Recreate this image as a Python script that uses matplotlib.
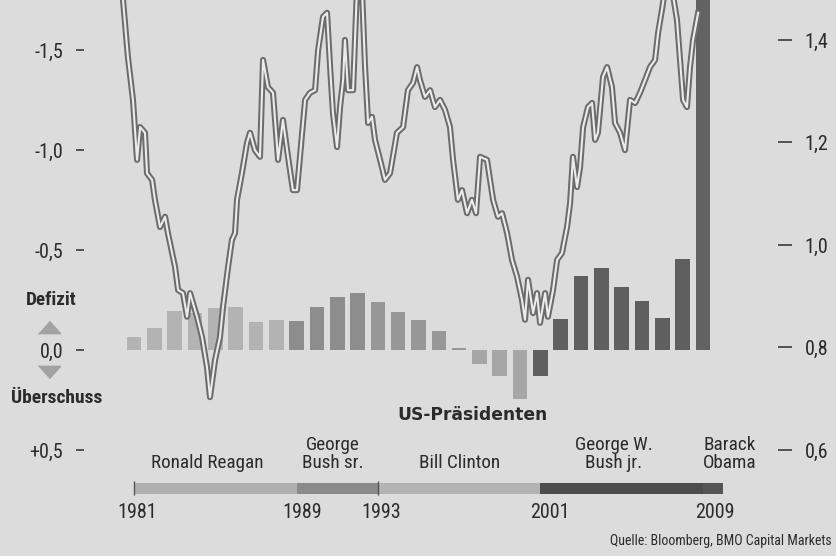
import matplotlib
matplotlib.use("Agg")
import matplotlib.pyplot as plt
import matplotlib.transforms as mtransforms

# US-Haushaltssaldo in Billionen Dollar (negativ = Defizit)
jahre = list(range(1981, 2010))
saldo = [-0.065, -0.11, -0.195, -0.185, -0.21, -0.215, -0.14, -0.15,
         -0.145, -0.215, -0.265, -0.285, -0.24, -0.19, -0.15, -0.095,
         -0.012, 0.07, 0.13, 0.245, 0.13, -0.155, -0.37, -0.41,
         -0.315, -0.245, -0.16, -0.455, -1.85]

# Euro/Dollar-Kurs (rechte Achse)
kurs_zeit = [1980.36, 1980.46, 1980.70, 1980.95, 1981.15, 1981.30, 1981.54, 1981.64,
             1981.89, 1982.03, 1982.28, 1982.53, 1982.67, 1983.02, 1983.17, 1983.41,
             1983.61, 1983.76, 1984.10, 1984.35, 1984.59, 1984.74, 1984.99, 1985.23,
             1985.38, 1985.63, 1985.82, 1985.97, 1986.07, 1986.31, 1986.56, 1986.71,
             1986.95, 1987.20, 1987.35, 1987.59, 1987.84, 1988.09, 1988.33, 1988.58,
             1988.82, 1989.02, 1989.42, 1989.66, 1989.91, 1990.06, 1990.30, 1990.50,
             1990.65, 1990.79, 1990.99, 1991.14, 1991.29, 1991.38, 1991.53, 1991.78,
             1991.97, 1992.22, 1992.37, 1992.52, 1992.71, 1992.86, 1993.11, 1993.35,
             1993.60, 1993.94, 1994.24, 1994.48, 1994.73, 1994.93, 1995.07, 1995.32,
             1995.57, 1995.81, 1996.06, 1996.31, 1996.55, 1996.70, 1996.94, 1997.14,
             1997.39, 1997.63, 1997.83, 1998.03, 1998.37, 1998.67, 1998.91, 1999.11,
             1999.36, 1999.60, 1999.85, 2000.09, 2000.24, 2000.39, 2000.64, 2000.83,
             2000.98, 2001.23, 2001.37, 2001.62, 2001.82, 2002.06, 2002.31, 2002.46,
             2002.60, 2002.80, 2002.95, 2003.10, 2003.34, 2003.54, 2003.69, 2003.83,
             2004.08, 2004.28, 2004.52, 2004.67, 2004.92, 2005.16, 2005.41, 2005.66,
             2005.90, 2006.15, 2006.39, 2006.64, 2006.79, 2006.98, 2007.13, 2007.48,
             2007.72, 2007.87, 2008.02, 2008.21, 2008.36, 2008.51, 2008.76]
kurs = [1.507, 1.478, 1.367, 1.283, 1.166, 1.230, 1.219, 1.140,
        1.127, 1.088, 1.035, 1.055, 1.023, 0.957, 0.912, 0.906,
        0.860, 0.906, 0.860, 0.820, 0.762, 0.703, 0.776, 0.820,
        0.879, 0.957, 1.010, 1.023, 1.088, 1.140, 1.199, 1.219,
        1.185, 1.172, 1.361, 1.308, 1.297, 1.166, 1.244, 1.172,
        1.107, 1.107, 1.283, 1.297, 1.302, 1.380, 1.445, 1.453,
        1.347, 1.258, 1.191, 1.269, 1.322, 1.400, 1.302, 1.302,
        1.498, 1.498, 1.347, 1.238, 1.250, 1.205, 1.166, 1.127,
        1.140, 1.219, 1.230, 1.302, 1.316, 1.347, 1.322, 1.289,
        1.302, 1.269, 1.283, 1.263, 1.230, 1.166, 1.088, 1.107,
        1.062, 1.088, 1.062, 1.172, 1.166, 1.088, 1.055, 1.062,
        1.023, 0.971, 0.938, 0.893, 0.854, 0.932, 0.867, 0.906,
        0.848, 0.906, 0.860, 0.912, 0.971, 0.984, 1.035, 1.082,
        1.172, 1.113, 1.152, 1.230, 1.269, 1.277, 1.205, 1.219,
        1.328, 1.347, 1.308, 1.238, 1.219, 1.185, 1.283, 1.277,
        1.297, 1.322, 1.347, 1.361, 1.414, 1.459, 1.498, 1.498,
        1.439, 1.361, 1.283, 1.269, 1.347, 1.400, 1.453]

praesidenten = ["Ronald Reagan", "George\nBush sr.", "Bill Clinton",
                "George W.\nBush jr.", "Barack\nObama"]
amtsbeginn = [1981, 1989, 1993, 2001, 2009]
amtsende = [1989, 1993, 2001, 2009, 2010]
name_pos = [1984.6, 1990.8, 1997.0, 2004.6, 2010.3]
jahr_labels = ["1981", "1989", "1993", "2001", "2009"]
jahr_pos = [1981.15, 1989.27, 1993.15, 2001.47, 2009.6]

links_ticks = [-1.5, -1.0, -0.5, 0.0, 0.5]
links_labels = ["-1,5", "-1,0", "-0,5", "0,0", "+0,5"]
rechts_ticks = [0.6, 0.8, 1.0, 1.2, 1.4]
rechts_labels = ["0,6", "0,8", "1,0", "1,2", "1,4"]

BG = "#dcdcdc"
TXT = "#2b2b2b"
balken_farbe = ["#b3b3b3", "#8d8d8d", "#979797", "#5f5f5f", "#626262"]
leiste_farbe = ["#b0b0b0", "#8a8a8a", "#b3b3b3", "#4d4d4d", "#555555"]
SCHMAL = ["Roboto Condensed", "Liberation Sans Narrow", "Liberation Sans"]
plt.rcParams["font.stretch"] = "condensed"


def praesident_von(jahr):
    for i, (a, e) in enumerate(zip(amtsbeginn, amtsende)):
        if a <= jahr < e:
            return i
    return len(amtsbeginn) - 1


fig = plt.figure(figsize=(8.36, 5.56), dpi=100, facecolor=BG)
ax = fig.add_axes([84 / 836, 0, (778 - 84) / 836, 1])
ax.set_facecolor("none")
ax.set_xlim(1978.54, 2012.69)
ax.set_ylim(1.03, -1.75)
for s in ax.spines.values():
    s.set_visible(False)

# Balken Haushaltssaldo
farben = []
for j, v in zip(jahre, saldo):
    i = praesident_von(j)
    if i == 2 and v > 0:
        farben.append("#a6a6a6")
    else:
        farben.append(balken_farbe[i])
ax.bar(jahre, saldo, width=0.72, color=farben, zorder=2)

# Leiste der Präsidenten
for a, e, c in zip(amtsbeginn, amtsende, leiste_farbe):
    ax.barh(0.69, e - a, left=a, height=0.055, color=c, zorder=2, clip_on=False)
ax.vlines([1981, 1993], 0.655, 0.725, color="#555555", lw=1, zorder=3)

for name, x in zip(praesidenten, name_pos):
    ax.text(x, 0.61, name, ha="center", va="bottom", fontsize=13.8,
            family=SCHMAL, color=TXT, linespacing=1.0, clip_on=False)
for lab, x in zip(jahr_labels, jahr_pos):
    ax.text(x, 0.815, lab, ha="center", va="center", fontsize=14.5,
            family=SCHMAL, color=TXT)
ax.text(1997.68, 0.325, "US-Präsidenten", ha="center", va="center",
        fontsize=12.3, fontweight="bold", family="DejaVu Sans",
        fontstretch="normal", color=TXT)

ax.set_xticks([])
ax.set_yticks(links_ticks)
ax.set_yticklabels(links_labels, family=SCHMAL)
ax.tick_params(axis="y", direction="out", length=6, width=1.1, pad=9,
               labelsize=14.5, colors=TXT)

# Legende links: Defizit / Überschuss
mix = mtransforms.blended_transform_factory(fig.transFigure, ax.transData)
ax.text(51 / 836, -0.25, "Defizit", transform=mix, ha="center", va="center",
        fontsize=13.8, fontweight="bold", family=SCHMAL, color=TXT)
ax.text(57 / 836, 0.24, "Überschuss", transform=mix, ha="center", va="center",
        fontsize=14, fontweight="bold", family=SCHMAL, color=TXT)
dreieck_auf = [(-1.8, -1), (1.8, -1), (0, 1)]
dreieck_ab = [(-1.8, 1), (1.8, 1), (0, -1)]
ax.plot([49 / 836], [-0.115], marker=dreieck_auf, ms=16, color="#a2a2a2",
        transform=mix, clip_on=False, ls="none")
ax.plot([49 / 836], [0.11], marker=dreieck_ab, ms=16, color="#a2a2a2",
        transform=mix, clip_on=False, ls="none")

# Kurslinie rechts
ax2 = ax.twinx()
ax2.set_ylim(0.393, 1.478)
for s in ax2.spines.values():
    s.set_visible(False)
ax2.plot(kurs_zeit, kurs, color="#6c6c6c", lw=4.4, solid_joinstyle="round", zorder=3)
ax2.plot(kurs_zeit, kurs, color="#ececec", lw=1.5, solid_joinstyle="round", zorder=4)
ax2.set_yticks(rechts_ticks)
ax2.set_yticklabels(rechts_labels, family=SCHMAL)
ax2.tick_params(axis="y", direction="out", length=10, width=1.1, pad=9,
                labelsize=14.5, colors=TXT)

fig.text(832 / 836, 1 - 541 / 556, "Quelle: Bloomberg, BMO Capital Markets",
         ha="right", va="center", fontsize=10, family=SCHMAL, color=TXT)

fig.savefig("out.png", dpi=100, facecolor=BG)
